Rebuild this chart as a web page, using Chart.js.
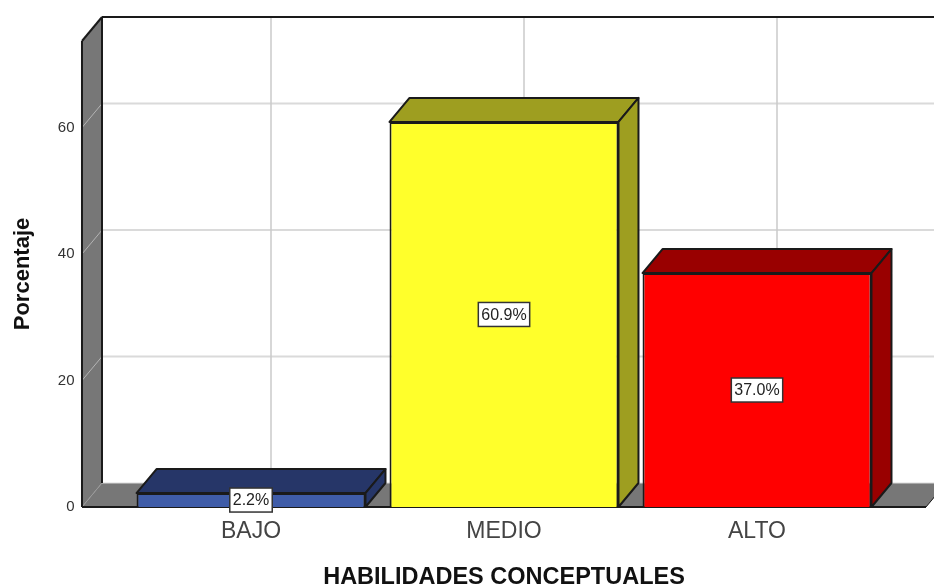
<!DOCTYPE html>
<html>
<head>
<meta charset="utf-8">
<style>
  html, body { margin: 0; padding: 0; background: #fff; }
  canvas { display: block; }
</style>
<script src="https://cdn.jsdelivr.net/npm/chart.js@4/dist/chart.umd.min.js"></script>
</head>
<body>
<canvas id="chart" width="934" height="587"></canvas>
<script>
// Datos
const categories = ['BAJO', 'MEDIO', 'ALTO'];
const percentages = [2.2, 60.9, 37.0];
const yTicks = [0, 20, 40, 60];
const yMax = 73.7;

const xTitle = 'HABILIDADES CONCEPTUALES';
const yTitle = 'Porcentaje';

// Colores de cada barra: frente, cara superior, cara lateral
const frontColors = ['#3f5ca8', '#ffff2b', '#ff0000'];
const topColors = ['#263668', '#9e9e20', '#990000'];
const sideColors = ['#263668', '#9e9e20', '#990000'];

const wallColor = '#777777';
const lineColor = '#1a1a1a';
const depthX = 20;
const depthY = -24;

function poly(ctx, pts, fill, stroke, width) {
  ctx.beginPath();
  pts.forEach((p, i) => i ? ctx.lineTo(p[0], p[1]) : ctx.moveTo(p[0], p[1]));
  ctx.closePath();
  if (fill) { ctx.fillStyle = fill; ctx.fill(); }
  if (stroke) { ctx.strokeStyle = stroke; ctx.lineWidth = width; ctx.stroke(); }
}

function seg(ctx, x1, y1, x2, y2, color, width) {
  ctx.beginPath();
  ctx.moveTo(x1, y1);
  ctx.lineTo(x2, y2);
  ctx.strokeStyle = color;
  ctx.lineWidth = width;
  ctx.stroke();
}

// Paredes, piso y rejilla detras de las barras, mas las caras 3D
const walls3d = {
  id: 'walls3d',
  beforeDatasetsDraw(chart) {
    const { ctx, chartArea, scales } = chart;
    const step = scales.x.getPixelForValue(1) - scales.x.getPixelForValue(0);
    const left = scales.x.getPixelForValue(0) - step * 0.668;
    const right = scales.x.getPixelForValue(2) + step * 0.668;
    const bottom = chartArea.bottom;
    const top = chartArea.top;
    const backLeft = left + depthX;
    const backBottom = bottom + depthY;
    const backTop = top + depthY;
    const edge = chart.width;

    ctx.save();
    ctx.lineJoin = 'round';
    // pared izquierda y piso
    poly(ctx, [[left, top], [backLeft, backTop], [backLeft, backBottom], [left, bottom]], wallColor);
    poly(ctx, [[left, bottom], [backLeft, backBottom], [right + depthX, backBottom], [right, bottom]], wallColor);

    // rejilla en la pared del fondo y en la pared izquierda
    yTicks.slice(1).forEach(v => {
      const y = scales.y.getPixelForValue(v);
      seg(ctx, backLeft, y + depthY, edge, y + depthY, '#dadada', 2);
      seg(ctx, left, y, backLeft, y + depthY, '#b4b4b4', 1);
    });
    seg(ctx, backLeft, backBottom, edge, backBottom, '#dadada', 1);
    categories.forEach((c, i) => {
      const x = scales.x.getPixelForValue(i) + depthX;
      seg(ctx, x, backTop, x, backBottom, '#cacaca', 1.5);
    });
    seg(ctx, left, bottom, backLeft, backBottom, '#9a9a9a', 1);

    // marco
    seg(ctx, backLeft, backTop, edge, backTop, lineColor, 2);
    seg(ctx, backLeft, backTop, backLeft, backBottom, lineColor, 2);
    seg(ctx, left, top, backLeft, backTop, lineColor, 2);
    seg(ctx, left, top, left, bottom, lineColor, 2);
    seg(ctx, left, bottom, right, bottom, lineColor, 2);
    seg(ctx, right, bottom, right + depthX, backBottom, lineColor, 1);

    // caras superior y lateral de cada barra
    chart.getDatasetMeta(0).data.forEach((bar, i) => {
      const half = bar.width / 2;
      const x1 = bar.x - half;
      const x2 = bar.x + half;
      poly(ctx, [[x1, bar.y], [x1 + depthX, bar.y + depthY], [x2 + depthX, bar.y + depthY], [x2, bar.y]], topColors[i], lineColor, 2);
      poly(ctx, [[x2, bar.y], [x2 + depthX, bar.y + depthY], [x2 + depthX, bar.base + depthY], [x2, bar.base]], sideColors[i], lineColor, 2);
    });
    ctx.restore();
  },
  // etiquetas de porcentaje
  afterDatasetsDraw(chart) {
    const { ctx } = chart;
    ctx.save();
    ctx.font = '16px "Liberation Sans", Arial, sans-serif';
    ctx.textAlign = 'center';
    ctx.textBaseline = 'middle';
    chart.getDatasetMeta(0).data.forEach((bar, i) => {
      const text = percentages[i].toFixed(1) + '%';
      const cy = (bar.y + bar.base) / 2;
      const w = ctx.measureText(text).width + 6;
      const h = 24;
      ctx.fillStyle = '#ffffff';
      ctx.fillRect(bar.x - w / 2, cy - h / 2, w, h);
      ctx.strokeStyle = '#333333';
      ctx.lineWidth = 1.5;
      ctx.strokeRect(bar.x - w / 2, cy - h / 2, w, h);
      ctx.fillStyle = '#222222';
      ctx.fillText(text, bar.x, cy + 1);
    });
    ctx.restore();
  }
};

new Chart(document.getElementById('chart').getContext('2d'), {
  type: 'bar',
  data: {
    labels: categories,
    datasets: [{
      data: percentages,
      backgroundColor: frontColors,
      borderColor: lineColor,
      borderWidth: 2,
      barPercentage: 0.905,
      categoryPercentage: 1
    }]
  },
  options: {
    responsive: false,
    animation: false,
    layout: { padding: { top: 41, right: 50.5, bottom: 0, left: 0 } },
    plugins: {
      legend: { display: false },
      tooltip: { enabled: false }
    },
    scales: {
      x: {
        offset: true,
        grid: { display: false, drawTicks: false },
        border: { display: false },
        ticks: {
          color: '#444444',
          padding: 11,
          maxRotation: 0,
          font: { family: '"Liberation Sans", Arial, sans-serif', size: 23 }
        },
        title: {
          display: true,
          text: xTitle,
          color: '#111111',
          padding: { top: 0, bottom: -2 },
          font: { family: '"Liberation Sans", Arial, sans-serif', size: 23.5, weight: 'bold', lineHeight: 1 }
        },
        afterFit(scale) { scale.height = 80; }
      },
      y: {
        min: 0,
        max: yMax,
        grid: { display: false, drawTicks: false },
        border: { display: false },
        ticks: {
          stepSize: 20,
          includeBounds: false,
          color: '#333333',
          padding: 50,
          font: { family: '"Liberation Sans", Arial, sans-serif', size: 15 }
        },
        title: {
          display: true,
          text: yTitle,
          color: '#111111',
          padding: { top: 12, bottom: 0 },
          font: { family: '"Liberation Sans", Arial, sans-serif', size: 22, weight: 'bold', lineHeight: 1 }
        },
        // el padding de las marcas no debe reducir el area del grafico
        afterFit(scale) {
          scale.width = 124.5;
          scale.paddingTop = 0;
          scale.paddingBottom = 0;
        }
      }
    }
  },
  plugins: [walls3d]
});
</script>
</body>
</html>
